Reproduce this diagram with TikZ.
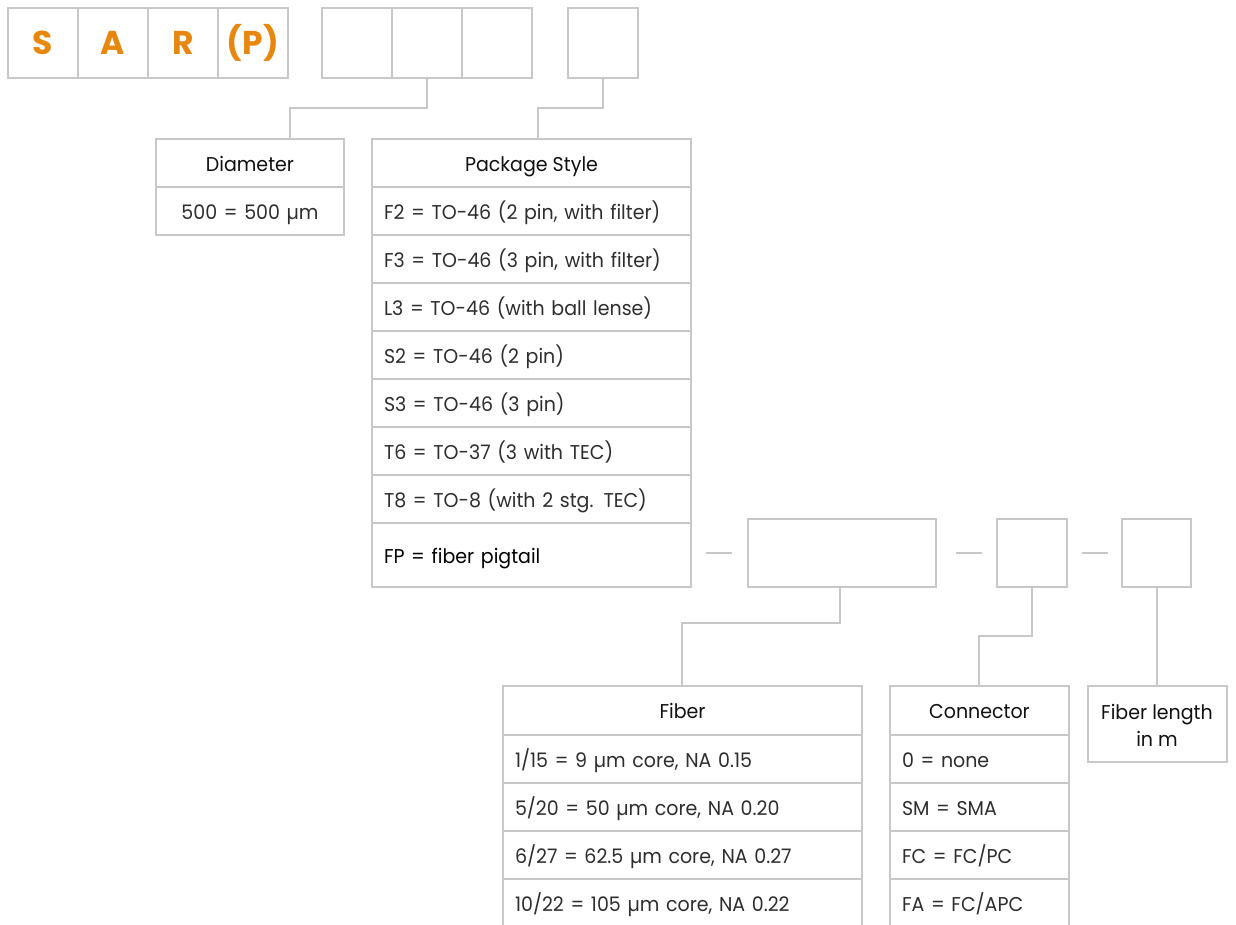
\documentclass[tikz,border=0pt]{standalone}
\usepackage{fontspec}
\setmainfont{Poppins}[FakeStretch=0.95]
\newfontfamily\letterfont{Poppins}
\definecolor{lineg}{HTML}{C8C8C8}
\definecolor{orng}{HTML}{E8870E}
\definecolor{txt}{HTML}{2E2E2E}
\definecolor{hdtxt}{HTML}{111111}
\tikzset{
  cellbox/.style={draw=lineg, line width=2pt, anchor=north west, inner sep=0pt, outer sep=0pt},
  hd/.style={cellbox, align=center, text height=16pt, text depth=0pt, font=\fontsize{20}{24}\selectfont, text=hdtxt},
  rw/.style={cellbox, align=left, text width=#1-24pt, inner xsep=12pt, minimum width=#1, minimum height=48pt, text height=16pt, text depth=0pt, font=\fontsize{20}{24}\selectfont, text=txt},
  letter/.style={cellbox, minimum width=70pt, minimum height=70pt, text height=23pt, text depth=0pt, font=\letterfont\fontsize{33}{36}\selectfont\bfseries, text=orng},
  conn/.style={draw=lineg, line width=2pt},
  sepdash/.style={draw=lineg, line width=2pt}
}
\begin{document}
\begin{tikzpicture}[x=1pt,y=-1pt]
\clip (0,0) rectangle (1236,924);
\fill[white] (0,0) rectangle (1236,924);
% top code boxes
\node[letter] (t1) at (8,8) {S};
\node[letter] (t2) at (78,8) {A};
\node[letter] (t3) at (148,8) {R};
\node[letter] (t4) at (218,8) {(P)};
\node[letter] (t5) at (322,8) {};
\node[letter] (t6) at (392,8) {};
\node[letter] (t7) at (462,8) {};
\node[letter] (t8) at (568,8) {};
% Diameter
\node[hd, minimum width=188pt, minimum height=48pt] (dh) at (156,139) {Diameter};
\node[rw=188pt, align=center] (d1) at (156,187) {500 = 500 µm};
% Package style
\node[hd, minimum width=319pt, minimum height=48pt] (ph) at (372,139) {Package Style};
\node[rw=319pt] (p1) at (372,187) {F2 = TO-46 (2 pin, with filter)};
\node[rw=319pt] (p2) at (372,235) {F3 = TO-46 (3 pin, with filter)};
\node[rw=319pt] (p3) at (372,283) {L3 = TO-46 (with ball lense)};
\node[rw=319pt] (p4) at (372,331) {S2 = TO-46 (2 pin)};
\node[rw=319pt] (p5) at (372,379) {S3 = TO-46 (3 pin)};
\node[rw=319pt] (p6) at (372,427) {T6 = TO-37 (3 with TEC)};
\node[rw=319pt] (p7) at (372,475) {T8 = TO-8 (with 2 stg. TEC)};
\node[rw=319pt, minimum height=64pt, text=black] (p8) at (372,523) {FP = fiber pigtail};
% pigtail code boxes
\node[cellbox, minimum width=188pt, minimum height=68pt] (b1) at (748,519) {};
\node[cellbox, minimum width=70pt, minimum height=68pt] (b2) at (997,519) {};
\node[cellbox, minimum width=69pt, minimum height=68pt] (b3) at (1122,519) {};
% Fiber
\node[hd, minimum width=359pt, minimum height=49pt] (fh) at (503,686) {Fiber};
\node[rw=359pt] (f1) at (503,735) {1/15 = 9 µm core, NA 0.15};
\node[rw=359pt] (f2) at (503,783) {5/20 = 50 µm core, NA 0.20};
\node[rw=359pt] (f3) at (503,831) {6/27 = 62.5 µm core, NA 0.27};
\node[rw=359pt] (f4) at (503,879) {10/22 = 105 µm core, NA 0.22};
% Connector
\node[hd, minimum width=179pt, minimum height=49pt] (ch) at (890,686) {Connector};
\node[rw=179pt] (c1) at (890,735) {0 = none};
\node[rw=179pt] (c2) at (890,783) {SM = SMA};
\node[rw=179pt] (c3) at (890,831) {FC = FC/PC};
\node[rw=179pt] (c4) at (890,879) {FA = FC/APC};
% Fiber length
\node[cellbox, minimum width=139pt, minimum height=76pt] (lh) at (1088,686) {};
\node[anchor=north, inner sep=0pt, align=center, font=\fontsize{20}{27}\selectfont, text=hdtxt] (lht) at (1157,704) {Fiber length\\in m};
% connectors
\draw[conn] (t6.south) -- ++(0,30) -| (dh.north -| 290,0);
\draw[conn] (t8.south) -- ++(0,30) -| (ph.north -| 538,0);
\draw[conn] (b1.south -| 840,0) -- ++(0,36) -| (fh.north -| 682,0);
\draw[conn] (b2.south -| 1032,0) -- ++(0,49) -| (ch.north -| 979,0);
\draw[conn] (b3.south -| 1157,0) -- (lh.north -| 1157,0);
\draw[sepdash, shorten <=15pt, shorten >=16pt] (b1.west -| p8.east) -- (b1.west);
\draw[sepdash, shorten <=20pt, shorten >=15pt] (b1.east) -- (b2.west);
\draw[sepdash, shorten <=15pt, shorten >=14pt] (b2.east) -- (b3.west);
\end{tikzpicture}
\end{document}
